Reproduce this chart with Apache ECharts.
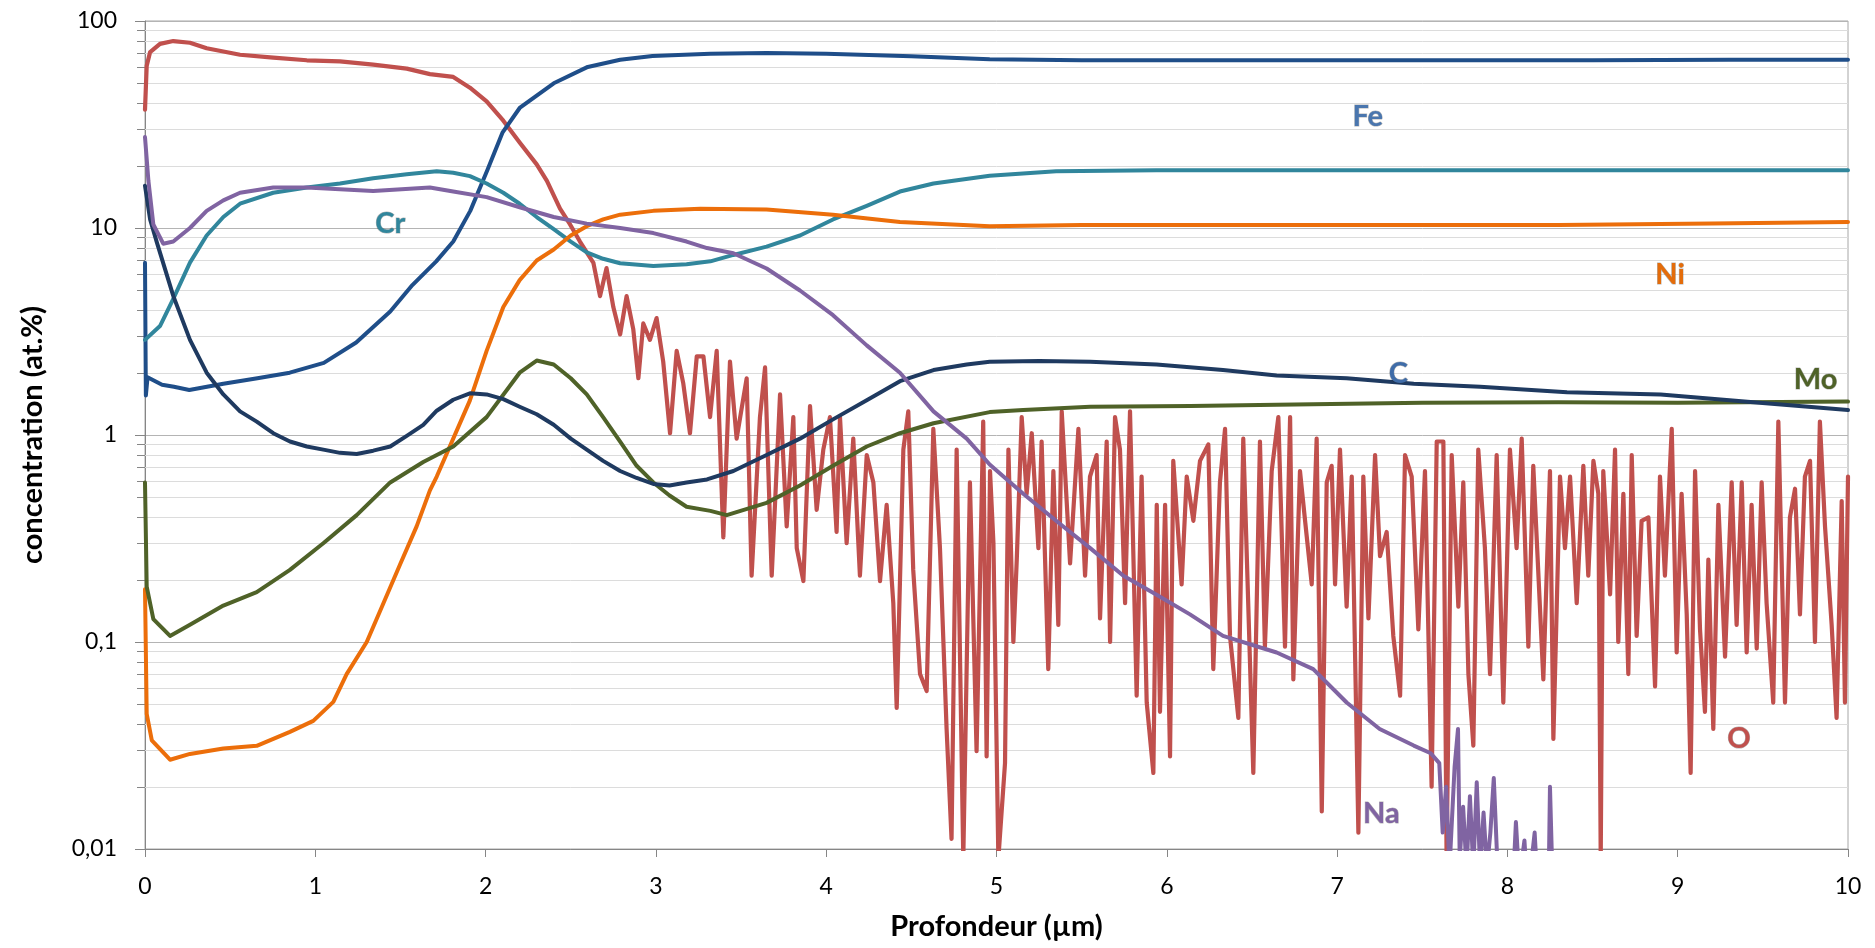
<!DOCTYPE html>
<html>
<head>
<meta charset="utf-8">
<script src="https://cdn.jsdelivr.net/npm/echarts@6/dist/echarts.min.js"></script>
<style>
html,body{margin:0;padding:0;background:#fff;}
#chart{width:1875px;height:948px;}
</style>
</head>
<body>
<div id="chart"></div>
<script>
// ---- data (depth in µm, concentration in at.%) ----
const FE = [[0,6.8],[0.005,1.55],[0.015,1.9],[0.1,1.75],[0.17,1.71],[0.26,1.65],[0.46,1.77],[0.66,1.88],[0.85,2.0],[1.05,2.23],[1.24,2.8],[1.44,3.95],[1.57,5.3],[1.71,6.9],[1.81,8.6],[1.91,12.1],[2.01,19],[2.10,29],[2.20,38],[2.40,50],[2.60,60],[2.79,65],[2.98,67.8],[3.32,69.5],[3.65,70],[4.0,69.5],[4.5,67.5],[4.96,65.3],[5.5,64.6],[6.5,64.6],[7.5,64.6],[8.5,64.6],[9.3,65],[10,65]];
const C = [[0,16],[0.03,11],[0.07,8.5],[0.166,4.7],[0.264,2.88],[0.362,2.0],[0.46,1.57],[0.558,1.30],[0.656,1.16],[0.753,1.02],[0.851,0.93],[0.95,0.88],[1.047,0.85],[1.145,0.82],[1.243,0.81],[1.34,0.84],[1.44,0.88],[1.537,0.99],[1.634,1.12],[1.713,1.31],[1.81,1.48],[1.908,1.59],[2.006,1.57],[2.104,1.49],[2.20,1.37],[2.30,1.26],[2.40,1.12],[2.50,0.96],[2.594,0.85],[2.69,0.75],[2.79,0.67],[2.887,0.62],[2.985,0.58],[3.08,0.57],[3.18,0.59],[3.30,0.61],[3.455,0.67],[3.65,0.80],[3.846,0.96],[4.04,1.19],[4.238,1.47],[4.433,1.82],[4.63,2.06],[4.825,2.19],[4.96,2.26],[5.25,2.28],[5.55,2.26],[5.94,2.19],[6.33,2.06],[6.645,1.94],[7.056,1.88],[7.45,1.77],[7.84,1.71],[8.35,1.61],[8.90,1.57],[9.48,1.43],[10,1.32]];
const MO = [[0,0.59],[0.01,0.185],[0.049,0.129],[0.147,0.107],[0.264,0.121],[0.46,0.15],[0.656,0.174],[0.851,0.223],[1.047,0.30],[1.243,0.41],[1.44,0.59],[1.634,0.74],[1.81,0.88],[2.006,1.22],[2.20,2.0],[2.30,2.29],[2.40,2.19],[2.50,1.88],[2.594,1.57],[2.69,1.22],[2.79,0.93],[2.887,0.71],[2.985,0.59],[3.08,0.51],[3.18,0.45],[3.32,0.43],[3.416,0.41],[3.65,0.47],[3.846,0.57],[4.04,0.71],[4.238,0.88],[4.433,1.02],[4.63,1.14],[4.96,1.29],[5.157,1.32],[5.55,1.37],[6.14,1.38],[6.645,1.40],[7.5,1.43],[8.3,1.44],[9.0,1.43],[10,1.45]];
const NI = [[0,0.18],[0.01,0.045],[0.04,0.0335],[0.147,0.027],[0.264,0.0288],[0.46,0.0306],[0.656,0.0315],[0.851,0.0368],[0.988,0.0416],[1.106,0.0514],[1.184,0.070],[1.302,0.10],[1.40,0.154],[1.497,0.236],[1.595,0.362],[1.673,0.54],[1.713,0.63],[1.81,0.96],[1.908,1.47],[2.006,2.55],[2.104,4.15],[2.20,5.6],[2.30,6.97],[2.40,7.87],[2.50,9.2],[2.594,10.2],[2.69,11.0],[2.79,11.6],[2.985,12.1],[3.26,12.4],[3.65,12.3],[4.04,11.6],[4.433,10.7],[4.96,10.2],[5.5,10.35],[6.5,10.35],[7.5,10.35],[8.3,10.35],[9.2,10.5],[10,10.7]];
const CR = [[0,2.88],[0.088,3.36],[0.166,4.55],[0.264,6.8],[0.362,9.2],[0.46,11.3],[0.558,13.1],[0.753,14.8],[0.95,15.7],[1.145,16.4],[1.34,17.4],[1.537,18.2],[1.713,18.8],[1.81,18.5],[1.908,17.8],[2.006,16.4],[2.104,14.8],[2.20,13.1],[2.30,11.3],[2.40,9.87],[2.50,8.6],[2.594,7.63],[2.69,7.1],[2.79,6.76],[2.985,6.56],[3.18,6.68],[3.32,6.9],[3.455,7.41],[3.65,8.13],[3.846,9.2],[4.04,11.0],[4.238,12.8],[4.433,15.0],[4.63,16.4],[4.96,17.9],[5.35,18.8],[5.94,19.0],[7,19.0],[8,19.0],[9,19.0],[10,19.0]];
const NA = [[0,27.5],[0.02,16.9],[0.049,10.4],[0.107,8.4],[0.166,8.6],[0.264,10.0],[0.362,12.1],[0.46,13.6],[0.558,14.8],[0.753,15.7],[0.95,15.7],[1.145,15.4],[1.34,15.1],[1.673,15.7],[1.81,15.0],[2.006,14.1],[2.20,12.6],[2.40,11.3],[2.594,10.5],[2.79,10.0],[2.985,9.45],[3.18,8.6],[3.30,8.0],[3.455,7.55],[3.65,6.37],[3.846,4.99],[4.04,3.79],[4.238,2.71],[4.433,2.0],[4.63,1.30],[4.825,0.96],[4.96,0.72],[5.157,0.52],[5.35,0.385],[5.55,0.284],[5.745,0.209],[5.94,0.169],[6.136,0.136],[6.33,0.107],[6.645,0.089],[6.86,0.074],[7.056,0.051],[7.25,0.038],[7.45,0.0316],[7.55,0.029],[7.60,0.026],[7.62,0.012],[7.64,0.02],[7.66,0.008],[7.69,0.025],[7.71,0.038],[7.72,0.009],[7.74,0.016],[7.76,0.008],[7.78,0.018],[7.80,0.008],[7.82,0.021],[7.84,0.008],[7.86,0.015],[7.88,0.008],[7.90,0.012],[7.92,0.022],[7.94,0.009],[7.96,0.006],[8.04,0.009],[8.05,0.0135],[8.07,0.007],[8.10,0.011],[8.12,0.006],[8.16,0.012],[8.18,0.006],[8.24,0.005],[8.25,0.02],[8.27,0.005],[8.4,0.004]];
const O = [[0,37.3],[0.01,60.8],[0.03,70.8],[0.088,77.5],[0.166,80],[0.264,78.5],[0.362,73.8],[0.558,68.7],[0.753,66.6],[0.95,64.6],[1.145,63.8],[1.34,61.5],[1.537,58.9],[1.673,55.4],[1.81,53.7],[1.908,47.6],[2.006,40.9],[2.104,33],[2.20,25.9],[2.30,20.3],[2.36,16.9],[2.437,12.4],[2.496,10.4],[2.554,8.6],[2.633,6.78],[2.672,4.69],[2.71,6.4],[2.75,4.15],[2.79,3.06],[2.828,4.69],[2.867,3.25],[2.897,1.88],[2.926,3.46],[2.965,2.88],[3.004,3.67],[3.043,2.26],[3.083,1.02],[3.122,2.55],[3.161,1.77],[3.20,1.02],[3.24,2.4],[3.279,2.4],[3.318,1.22],[3.357,2.55],[3.396,0.32],[3.435,2.26],[3.474,0.96],[3.533,1.88],[3.562,0.209],[3.611,1.22],[3.641,2.12],[3.68,0.209],[3.729,1.57],[3.768,0.362],[3.807,1.22],[3.827,0.284],[3.866,0.197],[3.905,1.38],[3.944,0.435],[3.983,0.85],[4.022,1.22],[4.061,0.34],[4.081,1.22],[4.12,0.30],[4.159,0.96],[4.198,0.209],[4.238,0.80],[4.277,0.59],[4.316,0.197],[4.355,0.46],[4.394,0.154],[4.414,0.048],[4.453,0.85],[4.482,1.30],[4.511,0.223],[4.551,0.070],[4.59,0.058],[4.629,1.07],[4.668,0.284],[4.707,0.038],[4.736,0.0112],[4.766,0.85],[4.805,0.009],[4.844,0.59],[4.883,0.0297],[4.922,1.16],[4.942,0.028],[4.962,0.67],[4.982,0.30],[5.011,0.009],[5.05,0.026],[5.07,0.85],[5.099,0.10],[5.119,0.25],[5.148,1.22],[5.177,0.52],[5.207,1.02],[5.246,0.284],[5.265,0.93],[5.304,0.074],[5.334,0.67],[5.363,0.121],[5.383,1.30],[5.432,0.24],[5.481,1.07],[5.52,0.209],[5.549,0.63],[5.588,0.80],[5.608,0.13],[5.647,0.93],[5.667,0.10],[5.696,1.22],[5.725,0.85],[5.755,0.154],[5.784,1.30],[5.823,0.055],[5.852,0.63],[5.882,0.051],[5.921,0.0233],[5.941,0.46],[5.96,0.046],[5.99,0.46],[6.019,0.028],[6.038,0.75],[6.087,0.19],[6.117,0.63],[6.156,0.385],[6.195,0.75],[6.244,0.90],[6.273,0.074],[6.312,0.59],[6.342,1.07],[6.371,0.107],[6.42,0.043],[6.449,0.96],[6.508,0.0233],[6.547,0.93],[6.576,0.095],[6.616,0.67],[6.655,1.22],[6.694,0.095],[6.724,1.22],[6.743,0.066],[6.782,0.67],[6.812,0.385],[6.851,0.19],[6.88,0.96],[6.91,0.0152],[6.939,0.59],[6.968,0.71],[6.988,0.19],[7.017,0.85],[7.056,0.148],[7.086,0.63],[7.125,0.012],[7.154,0.63],[7.184,0.13],[7.223,0.80],[7.252,0.26],[7.291,0.34],[7.33,0.107],[7.37,0.055],[7.399,0.80],[7.438,0.63],[7.477,0.115],[7.516,0.67],[7.555,0.02],[7.585,0.93],[7.624,0.93],[7.643,0.009],[7.673,0.80],[7.712,0.148],[7.741,0.59],[7.771,0.070],[7.80,0.0316],[7.829,0.85],[7.868,0.284],[7.898,0.07],[7.937,0.80],[7.976,0.051],[8.015,0.85],[8.054,0.284],[8.084,0.96],[8.123,0.095],[8.152,0.71],[8.211,0.066],[8.25,0.67],[8.27,0.034],[8.309,0.63],[8.338,0.284],[8.368,0.63],[8.407,0.154],[8.446,0.71],[8.475,0.209],[8.505,0.75],[8.534,0.52],[8.548,0.009],[8.563,0.67],[8.603,0.17],[8.632,0.85],[8.651,0.10],[8.681,0.52],[8.71,0.07],[8.73,0.80],[8.759,0.107],[8.788,0.385],[8.828,0.40],[8.867,0.061],[8.896,0.63],[8.925,0.209],[8.965,1.07],[8.994,0.089],[9.023,0.52],[9.053,0.136],[9.076,0.0233],[9.102,0.67],[9.131,0.115],[9.16,0.046],[9.18,0.25],[9.209,0.038],[9.239,0.46],[9.278,0.085],[9.317,0.59],[9.346,0.121],[9.376,0.59],[9.405,0.089],[9.434,0.46],[9.464,0.093],[9.493,0.59],[9.522,0.154],[9.561,0.051],[9.591,1.16],[9.63,0.051],[9.659,0.40],[9.689,0.55],[9.718,0.136],[9.747,0.63],[9.777,0.75],[9.806,0.10],[9.835,1.16],[9.865,0.362],[9.904,0.121],[9.933,0.043],[9.963,0.48],[9.982,0.051],[10,0.63]];

// minor log gridline values
const MINOR_TICKS = [0.02,0.03,0.04,0.05,0.06,0.07,0.08,0.09,0.2,0.3,0.4,0.5,0.6,0.7,0.8,0.9,2,3,4,5,6,7,8,9,20,30,40,50,60,70,80,90];

const FONT = 'Lato, "Liberation Sans", sans-serif';

function lineSeries(name, data, color, width, label, labelColor, labelCoord, z) {
  return {
    name: name, type: 'line', data: data, showSymbol: false, symbol: 'none',
    clip: true, z: z, animation: false,
    lineStyle: { color: color, width: width, join: 'round', cap: 'round' },
    markPoint: {
      symbol: 'rect', symbolSize: 1, silent: true, animation: false,
      itemStyle: { color: 'rgba(0,0,0,0)' },
      label: { show: true, formatter: label, color: labelColor, fontFamily: FONT,
               fontWeight: 'bold', fontSize: 29, position: 'inside',
               textBorderColor: 'rgba(40,40,40,0.35)', textBorderWidth: 1 },
      data: [{ coord: labelCoord }]
    }
  };
}

const chart = echarts.init(document.getElementById('chart'), null, { renderer: 'canvas' });
chart.setOption({
  animation: false,
  backgroundColor: '#ffffff',
  grid: { left: 145, right: 27, top: 21, bottom: 99, show: true, borderColor: '#A6A6A6', borderWidth: 1 },
  xAxis: {
    type: 'value', min: 0, max: 10, interval: 1,
    name: 'Profondeur (µm)', nameLocation: 'middle', nameGap: 63,
    nameTextStyle: { fontFamily: FONT, fontWeight: 'bold', fontSize: 29, color: '#000' },
    axisLine: { show: true, lineStyle: { color: '#868686', width: 1 } },
    axisTick: { show: true, length: 8, lineStyle: { color: '#868686' } },
    splitLine: { show: false },
    axisLabel: { fontFamily: FONT, fontSize: 23, color: '#000', margin: 26 }
  },
  yAxis: {
    type: 'log', logBase: 10, min: 0.01, max: 100,
    name: 'concentration (at.%)', nameLocation: 'middle', nameGap: 98,
    nameTextStyle: { fontFamily: FONT, fontWeight: 'bold', fontSize: 29, color: '#000' },
    axisLine: { show: true, lineStyle: { color: '#868686', width: 1 } },
    axisTick: { show: true, length: 10, lineStyle: { color: '#868686' } },
    splitLine: { show: true, lineStyle: { color: '#B4B4B4', width: 1 } },
    axisLabel: { fontFamily: FONT, fontSize: 23, color: '#000', margin: 28,
                 formatter: v => String(v).replace('.', ',') }
  },
  series: [
    {
      type: 'custom', silent: true, z: 1, clip: false, animation: false,
      data: MINOR_TICKS.map(v => [0, v]),
      encode: { x: 0, y: 1 },
      renderItem: function (params, api) {
        const v = api.value(1);
        const p0 = api.coord([0, v]);
        const p1 = api.coord([10, v]);
        const y = Math.round(p0[1]) + 0.5;
        return { type: 'group', children: [
          { type: 'line', shape: { x1: p0[0], y1: y, x2: p1[0], y2: y }, style: { stroke: '#DCDCDC', lineWidth: 1 } },
          { type: 'line', shape: { x1: p0[0] - 8, y1: y, x2: p0[0], y2: y }, style: { stroke: '#868686', lineWidth: 1 } }
        ] };
      }
    },
    lineSeries('O', O, '#C0504D', 4.2, 'O', '#C0504D', [9.36, 0.034], 2),
    lineSeries('Fe', FE, '#1F4E89', 4, 'Fe', '#4A76AE', [7.18, 34.4], 3),
    lineSeries('Cr', CR, '#31869C', 4, 'Cr', '#31869C', [1.44, 10.5], 3),
    lineSeries('Ni', NI, '#EC6E0A', 4, 'Ni', '#E46C0A', [8.955, 5.93], 3),
    lineSeries('Mo', MO, '#4F6228', 4, 'Mo', '#4F6228', [9.81, 1.85], 4),
    lineSeries('C', C, '#1F3A60', 4, 'C', '#3F6CA8', [7.36, 1.97], 4),
    lineSeries('Na', NA, '#8064A2', 4, 'Na', '#8064A2', [7.26, 0.0148], 5)
  ]
});
</script>
</body>
</html>
